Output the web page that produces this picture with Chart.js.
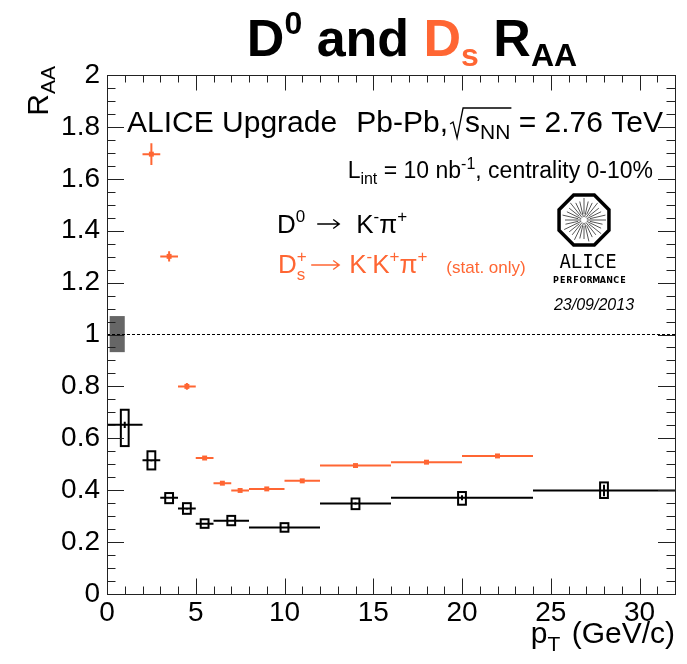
<!DOCTYPE html>
<html><head><meta charset="utf-8">
<script src="https://cdn.jsdelivr.net/npm/chart.js@4/dist/chart.umd.min.js"></script>
<style>html,body{margin:0;padding:0;background:#fff;}</style>
</head><body>
<canvas id="c" width="687" height="664" style="width:687px;height:664px;display:block"></canvas>
<script>
// ---- D0 -> K- pi+ (black, with systematic boxes) ----
const d0Pt      = [1, 2.5, 3.5, 4.5, 5.5, 7, 10, 14, 20, 28];
const d0PtLow   = [0, 2, 3, 4, 5, 6, 8, 12, 16, 24];
const d0PtHigh  = [2, 3, 4, 5, 6, 8, 12, 16, 24, 32];
const d0Raa     = [0.652, 0.515, 0.371, 0.329, 0.271, 0.282, 0.256, 0.349, 0.371, 0.399];
const d0Stat    = [0.012, 0.004, 0.004, 0.004, 0.003, 0.003, 0.003, 0.005, 0.010, 0.022];
const d0SysLow  = [0.570, 0.480, 0.350, 0.309, 0.255, 0.265, 0.240, 0.327, 0.344, 0.370];
const d0SysHigh = [0.710, 0.550, 0.389, 0.350, 0.288, 0.301, 0.273, 0.368, 0.393, 0.430];
const d0SysHalfWidth = 0.22;

// ---- Ds+ -> K- K+ pi+ (orange, stat only) ----
const dsPt     = [2.5, 3.5, 4.5, 5.5, 6.5, 7.5, 9, 11, 14, 18, 22];
const dsPtLow  = [2, 3, 4, 5, 6, 7, 8, 10, 12, 16, 20];
const dsPtHigh = [3, 4, 5, 6, 7, 8, 10, 12, 16, 20, 24];
const dsRaa    = [1.695, 1.301, 0.800, 0.524, 0.427, 0.399, 0.405, 0.436, 0.495, 0.508, 0.532];
const dsStat   = [0.042, 0.020, 0.013, 0.008, 0.006, 0.005, 0.005, 0.005, 0.005, 0.006, 0.006];

// ---- normalisation uncertainty box and reference line ----
const normPt  = [0.15, 1.0];
const normRaa = [0.932, 1.071];
const refLinePt = [0, 32];
const refLineRaa = [1, 1];

// ---- axes ----
const xRange = [0, 32];
const yRange = [0, 2];
const xTickLabels = [0, 5, 10, 15, 20, 25, 30];
const yTickLabels = [0, 0.2, 0.4, 0.6, 0.8, 1, 1.2, 1.4, 1.6, 1.8, 2];
const xMajorStep = 5, xMinorStep = 1;
const yMajorStep = 0.2, yMinorStep = 0.05;

const ORANGE = 'rgb(255,102,51)';
const FONT = '"Liberation Sans", Arial, Helvetica, sans-serif';

function rich(ctx, x, y, parts, align) {
  let w = 0;
  for (const p of parts) {
    if (p.arrow) p.w = p.aw; else { ctx.font = p.f; p.w = ctx.measureText(p.t).width; }
    w += p.w + (p.gap || 0);
  }
  let cx = x;
  if (align === 'right') cx = x - w; else if (align === 'center') cx = x - w / 2;
  ctx.textAlign = 'left'; ctx.textBaseline = 'alphabetic';
  for (const p of parts) {
    ctx.fillStyle = p.c || '#000';
    if (p.arrow) {
      const ay = y + (p.dy || 0);
      ctx.save();
      ctx.strokeStyle = p.c || '#000'; ctx.lineWidth = 1.4;
      ctx.beginPath();
      ctx.moveTo(cx, ay); ctx.lineTo(cx + p.w, ay);
      ctx.moveTo(cx + p.w - 6, ay - 4.5); ctx.lineTo(cx + p.w, ay); ctx.lineTo(cx + p.w - 6, ay + 4.5);
      ctx.stroke();
      ctx.restore();
    } else {
      ctx.font = p.f;
      ctx.fillText(p.t, cx, y + (p.dy || 0));
    }
    p.x0 = cx; cx += p.w + (p.gap || 0); p.x1 = cx;
  }
  return parts;
}

const decor = {
  id: 'decor',
  beforeDatasetsDraw(chart) {
    const {ctx, scales: {x, y}} = chart;
    ctx.save();
    ctx.fillStyle = '#666';
    const x0 = x.getPixelForValue(normPt[0]), x1 = x.getPixelForValue(normPt[1]);
    const y0 = y.getPixelForValue(normRaa[1]), y1 = y.getPixelForValue(normRaa[0]);
    ctx.fillRect(x0, y0, x1 - x0, y1 - y0);
    ctx.restore();
  },
  afterDatasetsDraw(chart) {
    const {ctx, scales: {x, y}} = chart;
    ctx.save();
    ctx.strokeStyle = '#000'; ctx.lineWidth = 2;
    for (let i = 0; i < d0Pt.length; i++) {
      const px = x.getPixelForValue(d0Pt[i]), py = y.getPixelForValue(d0Raa[i]);
      ctx.beginPath();
      ctx.moveTo(x.getPixelForValue(d0PtLow[i]), py); ctx.lineTo(x.getPixelForValue(d0PtHigh[i]), py);
      ctx.moveTo(px, y.getPixelForValue(d0Raa[i] - d0Stat[i])); ctx.lineTo(px, y.getPixelForValue(d0Raa[i] + d0Stat[i]));
      ctx.stroke();
      const bx0 = x.getPixelForValue(d0Pt[i] - d0SysHalfWidth), bx1 = x.getPixelForValue(d0Pt[i] + d0SysHalfWidth);
      const by0 = y.getPixelForValue(d0SysHigh[i]), by1 = y.getPixelForValue(d0SysLow[i]);
      ctx.strokeRect(bx0, by0, bx1 - bx0, by1 - by0);
    }
    ctx.strokeStyle = ORANGE; ctx.lineWidth = 2;
    for (let i = 0; i < dsPt.length; i++) {
      const px = x.getPixelForValue(dsPt[i]), py = y.getPixelForValue(dsRaa[i]);
      ctx.beginPath();
      ctx.moveTo(x.getPixelForValue(dsPtLow[i]), py); ctx.lineTo(x.getPixelForValue(dsPtHigh[i]), py);
      ctx.moveTo(px, y.getPixelForValue(dsRaa[i] - dsStat[i])); ctx.lineTo(px, y.getPixelForValue(dsRaa[i] + dsStat[i]));
      ctx.stroke();
    }
    ctx.restore();
  },
  afterDraw(chart) {
    const {ctx, chartArea: a, scales: {x, y}} = chart;
    ctx.save();
    ctx.strokeStyle = '#222'; ctx.lineWidth = 1;
    ctx.strokeRect(Math.round(a.left) + 0.5, Math.round(a.top) + 0.5, Math.round(a.right - a.left), Math.round(a.bottom - a.top));
    ctx.beginPath();
    const nx = Math.round((xRange[1] - xRange[0]) / xMinorStep);
    for (let i = 0; i <= nx; i++) {
      const v = xRange[0] + i * xMinorStep;
      const major = Math.abs(v / xMajorStep - Math.round(v / xMajorStep)) < 1e-6;
      const len = major ? 15.5 : 7.5;
      const px = Math.round(x.getPixelForValue(v)) + 0.5;
      ctx.moveTo(px, a.bottom); ctx.lineTo(px, a.bottom - len);
      ctx.moveTo(px, a.top); ctx.lineTo(px, a.top + len);
    }
    const ny = Math.round((yRange[1] - yRange[0]) / yMinorStep);
    for (let i = 0; i <= ny; i++) {
      const v = yRange[0] + i * yMinorStep;
      const major = i % Math.round(yMajorStep / yMinorStep) === 0;
      const len = major ? 17 : 8.5;
      const py = Math.round(y.getPixelForValue(v)) + 0.5;
      ctx.moveTo(a.left, py); ctx.lineTo(a.left + len, py);
      ctx.moveTo(a.right, py); ctx.lineTo(a.right - len, py);
    }
    ctx.stroke();

    // title
    rich(ctx, 412, 56, [
      {t: 'D', f: 'bold 52px ' + FONT},
      {t: '0', f: 'bold 32px ' + FONT, dy: -22},
      {t: ' and ', f: 'bold 52px ' + FONT},
      {t: 'D', f: 'bold 52px ' + FONT, c: ORANGE},
      {t: 's', f: 'bold 32px ' + FONT, dy: 10, c: ORANGE},
      {t: ' R', f: 'bold 52px ' + FONT},
      {t: 'AA', f: 'bold 32px ' + FONT, dy: 10}
    ], 'center');

    // y title
    ctx.save();
    ctx.translate(48, 66);
    ctx.rotate(-Math.PI / 2);
    rich(ctx, 0, 0, [
      {t: 'R', f: '30px ' + FONT},
      {t: 'AA', f: '21px ' + FONT, dy: 7}
    ], 'right');
    ctx.restore();

    // x title
    rich(ctx, 675, 643, [
      {t: 'p', f: '30px ' + FONT},
      {t: 'T', f: '21px ' + FONT, dy: 8, gap: 3},
      {t: ' (GeV/c)', f: '30px ' + FONT}
    ], 'right');

    // header text
    rich(ctx, 127, 132, [{t: 'ALICE Upgrade', f: '30px ' + FONT}], 'left');
    const p = rich(ctx, 663, 132, [
      {t: 'Pb-Pb,', f: '30px ' + FONT, gap: 17},
      {t: 's', f: '30px ' + FONT},
      {t: 'NN', f: '21px ' + FONT, dy: 7},
      {t: ' = 2.76 TeV', f: '30px ' + FONT}
    ], 'right');
    const rx = p[0].x1 - 15, topY = 108;
    ctx.strokeStyle = '#000'; ctx.lineWidth = 1.3;
    ctx.beginPath();
    ctx.moveTo(rx, 124); ctx.lineTo(rx + 3, 122);
    ctx.lineTo(rx + 7, 138); ctx.lineTo(rx + 13, topY);
    ctx.lineTo(p[2].x1 + 1, topY);
    ctx.stroke();

    rich(ctx, 653, 178, [
      {t: 'L', f: '23px ' + FONT},
      {t: 'int', f: '16px ' + FONT, dy: 6},
      {t: ' = 10 nb', f: '23px ' + FONT},
      {t: '-1', f: '16px ' + FONT, dy: -9},
      {t: ', centrality 0-10%', f: '23px ' + FONT}
    ], 'right');

    // legend
    rich(ctx, 277, 233, [
      {t: 'D', f: '26px ' + FONT},
      {t: '0', f: '17px ' + FONT, dy: -11, gap: 12},
      {arrow: true, aw: 22, dy: -9, gap: 17},
      {t: 'K', f: '26px ' + FONT},
      {t: '-', f: '17px ' + FONT, dy: -11},
      {t: '\u03c0', f: '26px ' + FONT},
      {t: '+', f: '17px ' + FONT, dy: -11}
    ], 'left');
    rich(ctx, 278, 273, [
      {t: 'D', f: '26px ' + FONT, c: ORANGE},
      {t: '+', f: '17px ' + FONT, dy: -11, c: ORANGE, gap: -10},
      {t: 's', f: '17px ' + FONT, dy: 7, c: ORANGE, gap: 6},
      {arrow: true, aw: 28, dy: -8, c: ORANGE, gap: 10},
      {t: 'K', f: '26px ' + FONT, c: ORANGE},
      {t: '-', f: '17px ' + FONT, dy: -11, c: ORANGE},
      {t: 'K', f: '26px ' + FONT, c: ORANGE},
      {t: '+', f: '17px ' + FONT, dy: -11, c: ORANGE},
      {t: '\u03c0', f: '26px ' + FONT, c: ORANGE},
      {t: '+', f: '17px ' + FONT, dy: -11, c: ORANGE, gap: 19},
      {t: '(stat. only)', f: '17px ' + FONT, c: ORANGE}
    ], 'left');

    // ALICE logo
    const cx = 584, cy = 220, R = 27;
    ctx.strokeStyle = '#555'; ctx.lineWidth = 1;
    ctx.beginPath();
    for (let k = 0; k < 28; k++) {
      const ang = k * Math.PI * 2 / 28;
      const r0 = (k % 2) ? 6 : 3, r1 = (k % 3 === 0) ? R - 5 : R - 8;
      ctx.moveTo(cx + r0 * Math.cos(ang), cy + r0 * Math.sin(ang));
      ctx.lineTo(cx + r1 * Math.cos(ang), cy + r1 * Math.sin(ang));
    }
    ctx.stroke();
    ctx.strokeStyle = '#000'; ctx.lineWidth = 3.5;
    ctx.beginPath();
    for (let k = 0; k < 8; k++) {
      const ang = Math.PI / 8 + k * Math.PI / 4;
      const px = cx + R * Math.cos(ang), py = cy + R * Math.sin(ang);
      if (k === 0) ctx.moveTo(px, py); else ctx.lineTo(px, py);
    }
    ctx.closePath(); ctx.stroke();
    ctx.fillStyle = '#000'; ctx.textAlign = 'center';
    ctx.font = '19px "DejaVu Sans Mono", monospace';
    ctx.fillText('ALICE', 588, 268);
    ctx.font = 'bold 8px "DejaVu Sans", sans-serif';
    const perf = 'PERFORMANCE';
    for (let k = 0; k < perf.length; k++) ctx.fillText(perf[k], 556 + k * 6.7, 283);
    ctx.font = 'italic 16px ' + FONT;
    ctx.fillText('23/09/2013', 594, 310);
    ctx.restore();
  }
};

new Chart(document.getElementById('c'), {
  type: 'scatter',
  data: {
    datasets: [
      {
        type: 'line', label: 'ref',
        data: refLinePt.map((v, i) => ({x: v, y: refLineRaa[i]})),
        borderColor: '#000', borderWidth: 1, borderDash: [3, 2], pointRadius: 0, fill: false
      },
      {
        label: 'Ds', data: dsPt.map((v, i) => ({x: v, y: dsRaa[i]})),
        pointStyle: 'rect', pointRadius: 3.5, backgroundColor: ORANGE, borderColor: ORANGE, borderWidth: 0
      },
      {
        label: 'D0', data: d0Pt.map((v, i) => ({x: v, y: d0Raa[i]})),
        pointRadius: 0, borderColor: '#000'
      }
    ]
  },
  options: {
    responsive: false, animation: false, devicePixelRatio: 1,
    layout: {padding: {left: 0, right: 12, top: 75, bottom: 0}},
    plugins: {legend: {display: false}, tooltip: {enabled: false}, title: {display: false}},
    scales: {
      x: {
        type: 'linear', min: xRange[0], max: xRange[1],
        grid: {display: false, drawTicks: false}, border: {display: false},
        afterBuildTicks: s => { s.ticks = xTickLabels.map(v => ({value: v})); },
        ticks: {autoSkip: false, maxRotation: 0, padding: 2, color: '#000',
          font: {family: FONT, size: 28},
          callback: v => String(v)},
        afterFit: s => { s.height = 70; }
      },
      y: {
        type: 'linear', min: yRange[0], max: yRange[1],
        grid: {display: false, drawTicks: false}, border: {display: false},
        afterBuildTicks: s => { s.ticks = yTickLabels.map(v => ({value: v})); },
        ticks: {autoSkip: false, padding: 7, color: '#000',
          font: {family: FONT, size: 28},
          callback: v => String(+v.toFixed(1))},
        afterFit: s => { s.width = 107; }
      }
    }
  },
  plugins: [decor]
});
</script>
</body></html>
